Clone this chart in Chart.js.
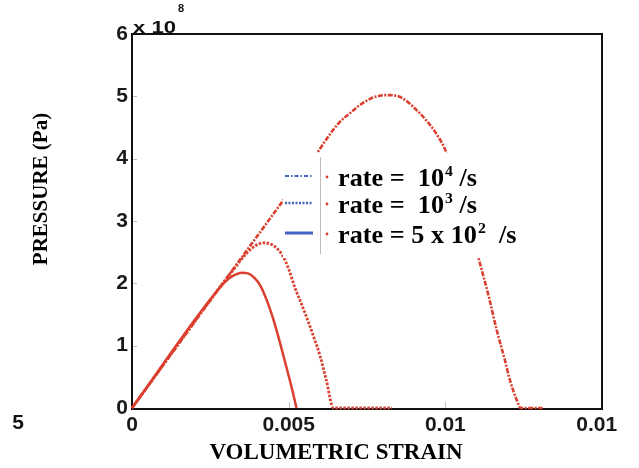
<!DOCTYPE html>
<html>
<head>
<meta charset="utf-8">
<script src="https://cdn.jsdelivr.net/npm/chart.js@4.4.1/dist/chart.umd.min.js"></script>
<style>
  html, body { margin: 0; padding: 0; background: #fff; }
  #wrap { width: 639px; height: 468px; }
</style>
</head>
<body>
<div id="wrap"><canvas id="chart" width="639" height="468"></canvas></div>
<script>
// pressure in units of 1e8 Pa, strain dimensionless
const STRAIN_1E4 = [0, 0.0030, 0.0040, 0.0050, 0.0056, 0.0060, 0.0063, 0.0066, 0.0070, 0.0073, 0.0076, 0.0079,
    0.0082, 0.0085, 0.0088, 0.0091, 0.0094, 0.0097, 0.0100, 0.0103, 0.0107, 0.0111, 0.0114, 0.01164, 0.0119,
    0.01206, 0.0123, 0.0124, 0.0131];
const PRESS_1E4 = [0, 2.07, 2.76, 3.45, 3.86, 4.16, 4.38, 4.57, 4.75, 4.87, 4.96, 5.01,
    5.02, 5.00, 4.91, 4.77, 4.61, 4.41, 4.14, 3.71, 3.05, 2.33, 1.76, 1.25, 0.77,
    0.45, 0.10, 0, 0];

const STRAIN_1E3 = [0, 0.0030, 0.0033, 0.0036, 0.0039, 0.0042, 0.0045, 0.0048, 0.0050, 0.0052, 0.0054, 0.0056,
    0.0058, 0.0060, 0.0062, 0.00643, 0.0083];
const PRESS_1E3 = [0, 2.07, 2.26, 2.45, 2.59, 2.65, 2.61, 2.45, 2.23, 1.93, 1.68, 1.42,
    1.14, 0.84, 0.45, 0, 0];

const STRAIN_5E2 = [0, 0.0028, 0.0031, 0.0033, 0.0035, 0.0037, 0.0039, 0.0041, 0.0043, 0.0045, 0.0047, 0.0049,
    0.0051, 0.00525];
const PRESS_5E2 = [0, 1.93, 2.08, 2.14, 2.17, 2.16, 2.09, 1.96, 1.73, 1.44, 1.09, 0.71,
    0.32, 0];

const X_TICK_LABELS = ['0', '0.005', '0.01', '0.01\u2002'];
const Y_TICKS = [0, 1, 2, 3, 4, 5, 6];

// legend rows: base text, superscript, tail
const LEGEND_ROWS = [
    ['rate =  10', '4', ' /s'],
    ['rate =  10', '3', ' /s'],
    ['rate = 5 x 10', '2', '  /s']
];

const RED = '#db3f2f';
const BLUE = '#4463c4';
const SANS = '"Liberation Sans", Arial, sans-serif';
const SERIF = '"Liberation Serif", "Times New Roman", serif';

const pts = (xs, ys) => xs.map((x, i) => ({ x, y: ys[i] }));

const decor = {
    id: 'decor',
    beforeDraw(chart) {
        const { ctx, width, height } = chart;
        ctx.save();
        ctx.fillStyle = '#fff';
        ctx.fillRect(0, 0, width, height);
        ctx.restore();
    },
    beforeDatasetsDraw(chart) {
        const { ctx, chartArea: a, scales } = chart;
        ctx.save();
        // faint inward ticks
        ctx.strokeStyle = 'rgba(0,0,0,.25)';
        ctx.lineWidth = 1;
        [0.005, 0.01].forEach(v => {
            const px = Math.round(scales.x.getPixelForValue(v)) + 0.5;
            ctx.beginPath();
            ctx.moveTo(px, a.bottom);
            ctx.lineTo(px, a.bottom - 6);
            ctx.stroke();
        });
        Y_TICKS.slice(1, -1).forEach(v => {
            const py = Math.round(scales.y.getPixelForValue(v)) + 0.5;
            ctx.beginPath();
            ctx.moveTo(a.left, py);
            ctx.lineTo(a.left + 5, py);
            ctx.stroke();
        });
        // box frame
        ctx.strokeStyle = '#111';
        ctx.lineWidth = 2;
        ctx.strokeRect(a.left, a.top, a.right - a.left, a.bottom - a.top + 1);
        ctx.restore();
    },
    afterDatasetsDraw(chart) {
        const { ctx, chartArea: a } = chart;
        const bx = a.left + 151, by = a.top + 119;
        ctx.save();
        ctx.fillStyle = '#fff';
        ctx.fillRect(bx, by, 237, 105);

        // divider between samples and labels
        ctx.strokeStyle = 'rgba(120,100,100,.45)';
        ctx.lineWidth = 1;
        ctx.beginPath();
        ctx.moveTo(bx + 37.5, by + 4);
        ctx.lineTo(bx + 37.5, by + 101);
        ctx.stroke();

        const rowY = [by + 23, by + 50, by + 80];
        const dashes = [[4, 2, 1.5, 2], [2, 1.5], []];
        const widths = [2, 2.5, 3];
        rowY.forEach((y, i) => {
            ctx.strokeStyle = BLUE;
            ctx.lineWidth = widths[i];
            ctx.setLineDash(dashes[i]);
            ctx.beginPath();
            ctx.moveTo(bx + 2, y);
            ctx.lineTo(bx + 30, y);
            ctx.stroke();
            ctx.setLineDash([]);
            ctx.fillStyle = RED;
            ctx.beginPath();
            ctx.arc(bx + 44, y + 1, 1.4, 0, Math.PI * 2);
            ctx.fill();
        });

        ctx.fillStyle = '#000';
        ctx.textBaseline = 'alphabetic';
        LEGEND_ROWS.forEach(([base, sup, tail], i) => {
            ctx.save();
            ctx.translate(bx + 55, rowY[i] + 10);
            ctx.scale(1.05, 1);
            let x = 0;
            ctx.font = `bold 25px ${SERIF}`;
            ctx.fillText(base, x, 0);
            x += ctx.measureText(base).width + 1;
            ctx.font = `bold 15px ${SERIF}`;
            ctx.fillText(sup, x, -10);
            x += ctx.measureText(sup).width;
            ctx.font = `bold 25px ${SERIF}`;
            ctx.fillText(tail, x, 0);
            ctx.restore();
        });
        ctx.restore();
    },
    afterDraw(chart) {
        const { ctx, chartArea: a } = chart;
        ctx.save();
        ctx.fillStyle = '#111';
        // axis multiplier
        ctx.textBaseline = 'alphabetic';
        ctx.textAlign = 'left';
        ctx.save();
        ctx.translate(a.left + 1, a.top - 1);
        ctx.scale(1.3, 1);
        ctx.font = `bold 17px ${SANS}`;
        ctx.fillText('x 10', 0, 0);
        ctx.restore();
        ctx.font = `bold 11px ${SANS}`;
        ctx.fillText('8', a.left + 46, a.top - 22);

        // stray digit left of the axis labels
        ctx.font = `bold 21px ${SANS}`;
        ctx.textAlign = 'center';
        ctx.textBaseline = 'middle';
        ctx.fillText('5', 18, 423);

        // axis titles
        ctx.fillStyle = '#000';
        ctx.font = `bold 23px ${SERIF}`;
        ctx.fillText('VOLUMETRIC STRAIN', 336, 453);

        ctx.translate(42, 189);
        ctx.rotate(-Math.PI / 2);
        ctx.font = `bold 21px ${SERIF}`;
        ctx.fillText('PRESSURE (Pa)', 0, 0);
        ctx.restore();
    }
};

const line = (label, xs, ys, dash, width) => ({
    label,
    data: pts(xs, ys),
    borderColor: RED,
    borderWidth: width,
    borderDash: dash,
    pointRadius: 0,
    fill: false,
    cubicInterpolationMode: 'monotone',
    clip: false
});

new Chart(document.getElementById('chart'), {
    type: 'line',
    data: {
        datasets: [
            line('rate = 10^4 /s', STRAIN_1E4, PRESS_1E4, [5, 1.5, 2, 1.5], 2.6),
            line('rate = 10^3 /s', STRAIN_1E3, PRESS_1E3, [2.5, 1.5], 2.8),
            line('rate = 5 x 10^2 /s', STRAIN_5E2, PRESS_5E2, [], 2.5)
        ]
    },
    options: {
        responsive: false,
        animation: false,
        layout: { padding: { left: 0, right: 37, top: 34, bottom: 0 } },
        plugins: { legend: { display: false }, tooltip: { enabled: false } },
        scales: {
            x: {
                type: 'linear',
                min: 0,
                max: 0.015,
                afterFit: s => { s.height = 60; },
                afterBuildTicks: s => { s.ticks = [0, 0.005, 0.01, 0.015].map(v => ({ value: v })); },
                grid: { display: false, drawTicks: false },
                border: { display: false },
                ticks: {
                    padding: 5,
                    maxRotation: 0,
                    color: '#1a1a1a',
                    font: { family: SANS, size: 21, weight: 'bold' },
                    callback: (v, i) => X_TICK_LABELS[i]
                }
            },
            y: {
                min: 0,
                max: 6,
                afterFit: s => { s.width = 132; },
                afterBuildTicks: s => { s.ticks = Y_TICKS.map(v => ({ value: v })); },
                grid: { display: false, drawTicks: false },
                border: { display: false },
                ticks: {
                    padding: 4,
                    color: '#1a1a1a',
                    font: { family: SANS, size: 21, weight: 'bold' },
                    callback: v => String(v)
                }
            }
        }
    },
    plugins: [decor]
});
</script>
</body>
</html>
